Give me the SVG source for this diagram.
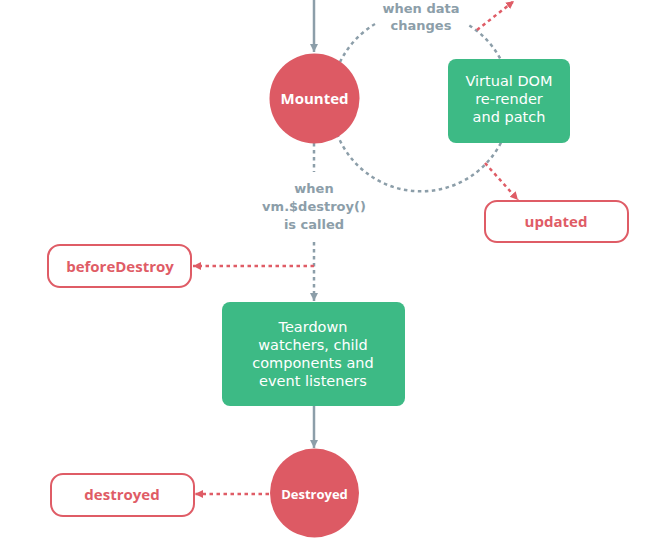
<svg xmlns="http://www.w3.org/2000/svg" width="655" height="550" viewBox="0 0 655 550">
<defs>
<style>
.grey{stroke:#8c9ea9;stroke-width:2.5;fill:none}
.dot{stroke-dasharray:3.5 3.5}
.red{stroke:#df5c66;stroke-width:2.5;fill:none;stroke-dasharray:3.5 3.5}
.hook{fill:#fff;stroke:#df5c66;stroke-width:2}
.hooktxt{fill:#df5c66;font-family:"Open Sans",sans-serif;font-weight:700;font-size:15px;text-anchor:middle}
.state{fill:#dd5a64}
.statetxt{fill:#fff;font-family:"Open Sans",sans-serif;font-weight:700;text-anchor:middle}
.box{fill:#3dba85}
.boxtxt{fill:#fff;font-family:"DejaVu Sans",sans-serif;font-size:14.5px;text-anchor:middle}
.lbl{fill:#8c9ea9;font-family:"DejaVu Sans",sans-serif;font-weight:700;font-size:13px;text-anchor:middle}
</style>
<marker id="ag" markerWidth="10" markerHeight="10" refX="8" refY="5" orient="auto" markerUnits="userSpaceOnUse"><path d="M0,1 L8,5 L0,9 Z" fill="#8c9ea9"/></marker>
<marker id="ar" markerWidth="10" markerHeight="10" refX="8" refY="5" orient="auto" markerUnits="userSpaceOnUse"><path d="M0,1 L8,5 L0,9 Z" fill="#df5c66"/></marker>
</defs>
<g id="connectors">
<path class="grey dot" d="M375,24 A90,90 0 1 0 467,24"/>
<line class="grey" x1="314" y1="0" x2="314" y2="52" marker-end="url(#ag)"/>
<line class="grey dot" x1="314" y1="143" x2="314" y2="172"/>
<line class="grey dot" x1="314" y1="242" x2="314" y2="301" marker-end="url(#ag)"/>
<line class="red" x1="314" y1="266" x2="193" y2="266" marker-end="url(#ar)"/>
<line class="red" x1="477" y1="30" x2="514" y2="1" marker-end="url(#ar)"/>
<line class="red" x1="485" y1="163" x2="518" y2="200" marker-end="url(#ar)"/>
<line class="grey" x1="314" y1="406" x2="314" y2="448" marker-end="url(#ag)"/>
<line class="red" x1="269" y1="494" x2="195" y2="494" marker-end="url(#ar)"/>
</g>
<g id="label-data"><text class="lbl" x="421" y="13">when data<tspan x="421" dy="17">changes</tspan></text></g>
<g id="label-destroy"><text class="lbl" x="314" y="193">when<tspan x="314" dy="18">vm.$destroy()</tspan><tspan x="314" dy="18">is called</tspan></text></g>
<g id="mounted"><circle class="state" cx="314.5" cy="98.5" r="45"/><text class="statetxt" x="314.5" y="104" font-size="15">Mounted</text></g>
<g id="vdom"><rect class="box" x="448" y="59" width="122" height="84" rx="8"/><text class="boxtxt" x="509" y="86">Virtual DOM<tspan x="509" dy="18">re-render</tspan><tspan x="509" dy="18">and patch</tspan></text></g>
<g id="updated"><rect class="hook" x="485" y="201" width="143" height="41" rx="12"/><text class="hooktxt" x="556" y="227">updated</text></g>
<g id="beforeDestroy"><rect class="hook" x="48" y="245" width="143" height="42" rx="12"/><text class="hooktxt" x="120" y="272">beforeDestroy</text></g>
<g id="teardown"><rect class="box" x="222" y="302" width="183" height="104" rx="8"/><text class="boxtxt" x="313" y="332">Teardown<tspan x="313" dy="18">watchers, child</tspan><tspan x="313" dy="18">components and</tspan><tspan x="313" dy="18">event listeners</tspan></text></g>
<g id="destroyedState"><circle class="state" cx="314.5" cy="493" r="44.5"/><text class="statetxt" x="314.5" y="499" font-size="13">Destroyed</text></g>
<g id="destroyed"><rect class="hook" x="51" y="474" width="143" height="42" rx="12"/><text class="hooktxt" x="122" y="500">destroyed</text></g>
</svg>
